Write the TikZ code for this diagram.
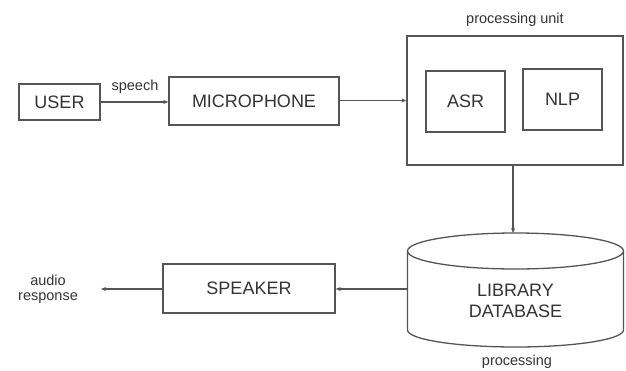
\documentclass[tikz,border=0pt]{standalone}
\usepackage{fontspec}
\setmainfont{Liberation Sans}
\usetikzlibrary{arrows.meta}
\definecolor{ln}{HTML}{555555}
\definecolor{tx}{HTML}{333333}
\tikzset{
  box/.style={draw=ln, line width=1.3pt, inner sep=0pt, font=\fontsize{18}{21}\selectfont, text=tx},
  lbl/.style={font=\fontsize{14.5}{17}\selectfont, text=tx, inner sep=0pt, align=center},
  conn/.style={draw=ln, line width=1.1pt, -{Stealth[length=5pt,width=4pt]}}
}
\begin{document}
\begin{tikzpicture}[x=1pt,y=-1pt]
\useasboundingbox (0,0) rectangle (626,370);
% boxes
\node[box, minimum width=81pt, minimum height=36pt] (user) at (59.5,102) {USER};
\node[box, minimum width=170pt, minimum height=48pt] (mic) at (254,101) {MICROPHONE};
\node[box, minimum width=216pt, minimum height=129pt] (pu) at (515,100.5) {};
\node[box, minimum width=79pt, minimum height=61pt] (asr) at (465.5,101.5) {ASR};
\node[box, minimum width=79pt, minimum height=61pt] (nlp) at (562.5,99.5) {NLP};
\node[lbl] (pulbl) at (515,20) {processing unit};
\node[lbl] (speech) at (135,87) {speech};
\node[box, minimum width=172pt, minimum height=49pt] (spk) at (249,288.5) {SPEAKER};
\node[lbl] (audio) at (48,289) {audio\\[-2pt]response};
% cylinder
\draw[draw=ln, line width=1.3pt] (407.5,251) -- (407.5,330) arc[start angle=180, end angle=360, x radius=108pt, y radius=17pt] -- (623.5,251);
\draw[draw=ln, line width=1.3pt] (515.5,251) ellipse [x radius=108pt, y radius=18pt];
\node[inner sep=0pt, font=\fontsize{18}{21}\selectfont, text=tx, align=center] (db) at (515.5,301) {LIBRARY\\DATABASE};
\coordinate (dbtop) at (513,233);
\coordinate (dbleft) at (407.5,289);
\coordinate (audioend) at (101,289);
\node[lbl] (proc) at (517,362) {processing};
% connectors
\draw[conn] (user.east) -- (user.east -| mic.west);
\draw[conn] (mic.east |- pu.west) -- (pu.west);
\draw[conn] (pu.south -| dbtop) -- (dbtop);
\draw[conn] (dbleft) -- (dbleft -| spk.east);
\draw[conn] (spk.west |- audioend) -- (audioend);
\end{tikzpicture}
\end{document}
